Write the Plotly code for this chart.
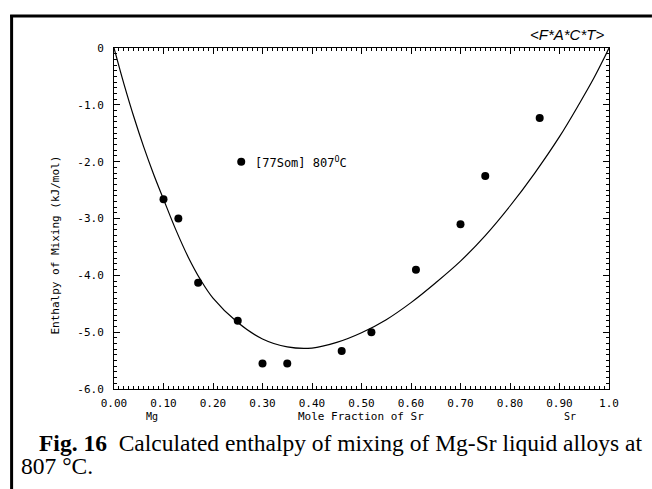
import plotly.graph_objects as go

# ---------------- data ----------------
exp_x = [0.10, 0.13, 0.17, 0.25, 0.30, 0.35, 0.46, 0.52, 0.61, 0.70, 0.75, 0.86]
exp_y = [-2.66, -3.00, -4.13, -4.80, -5.55, -5.55, -5.33, -5.00, -3.90, -3.10, -2.25, -1.23]

calc_x = [0.0, 0.01, 0.02, 0.04, 0.06, 0.08, 0.10, 0.125, 0.15, 0.175, 0.20, 0.25, 0.30,
          0.35, 0.40, 0.45, 0.50, 0.55, 0.60, 0.65, 0.70, 0.75, 0.80, 0.85, 0.90, 0.94,
          0.97, 0.99, 1.0]
calc_y = [0.0, -0.32, -0.63, -1.21, -1.74, -2.22, -2.66, -3.20, -3.68, -4.08, -4.40, -4.83,
          -5.12, -5.26, -5.28, -5.18, -5.01, -4.78, -4.48, -4.13, -3.75, -3.30, -2.78,
          -2.20, -1.56, -0.98, -0.52, -0.18, 0.0]

legend_x = [0.257]
legend_y = [-2.0]
legend_label = "[77Som] 807<sup>O</sup>C"

x_tickvals = [0.0, 0.1, 0.2, 0.3, 0.4, 0.5, 0.6, 0.7, 0.8, 0.9, 1.0]
x_ticktext = ["0.00", "0.10", "0.20", "0.30", "0.40", "0.50", "0.60", "0.70", "0.80", "0.90", "1.0"]
y_tickvals = [0, -1, -2, -3, -4, -5, -6]
y_ticktext = ["0", "-1.0", "-2.0", "-3.0", "-4.0", "-5.0", "-6.0"]

x_title = "Mole Fraction of Sr"
y_title = "Enthalpy of Mixing (kJ/mol)"
left_end = "Mg"
right_end = "Sr"
logo = "<i>&lt;F*A*C*T&gt;</i>"
caption1 = "<b>Fig. 16</b>\u00a0\u00a0Calculated enthalpy of mixing of Mg-Sr liquid alloys at"
caption2 = "807 \u00b0C."

# ---------------- layout geometry (pixels) ----------------
W, H = 652, 489
L, R, T, B = 113.5, 609, 48, 389


def px(x):
    return (x - L) / (R - L)


def py(y):
    return (B - y) / (B - T)


MONO = "DejaVu Sans Mono"
SERIF = "Liberation Serif, Times New Roman, serif"

fig = go.Figure()
fig.add_trace(go.Scatter(x=calc_x, y=calc_y, mode="lines",
                         line=dict(color="black", width=1.2, shape="spline", smoothing=1.0),
                         showlegend=False, hoverinfo="skip"))
fig.add_trace(go.Scatter(x=exp_x, y=exp_y, mode="markers",
                         marker=dict(color="black", size=8),
                         showlegend=False))
fig.add_trace(go.Scatter(x=legend_x, y=legend_y, mode="markers",
                         marker=dict(color="black", size=8),
                         showlegend=False, hoverinfo="skip"))

axis_common = dict(showline=True, linecolor="black", linewidth=1, mirror="ticks",
                   ticks="inside", tickcolor="black", tickwidth=1, ticklen=6,
                   showgrid=False, zeroline=False,
                   tickfont=dict(family=MONO, size=11, color="black"))

fig.update_xaxes(range=[0, 1], tickmode="array", tickvals=x_tickvals, ticktext=x_ticktext,
                 minor=dict(ticks="inside", dtick=0.01, ticklen=3, tickcolor="black", tickwidth=1),
                 ticklabelstandoff=4, **axis_common)
fig.update_yaxes(range=[-6, 0], tickmode="array", tickvals=y_tickvals, ticktext=y_ticktext,
                 minor=dict(ticks="inside", dtick=0.1, ticklen=3, tickcolor="black", tickwidth=1),
                 ticklabelstandoff=7, **axis_common)

ann = []
ann.append(dict(text=x_title, x=px(361), y=py(416), xref="paper", yref="paper",
                xanchor="center", yanchor="middle", showarrow=False,
                font=dict(family=MONO, size=11, color="black")))
ann.append(dict(text=left_end, x=px(152), y=py(416), xref="paper", yref="paper",
                xanchor="center", yanchor="middle", showarrow=False,
                font=dict(family=MONO, size=10, color="black")))
ann.append(dict(text=right_end, x=px(570), y=py(416), xref="paper", yref="paper",
                xanchor="center", yanchor="middle", showarrow=False,
                font=dict(family=MONO, size=10, color="black")))
ann.append(dict(text=y_title, x=px(55), y=py(245), xref="paper", yref="paper",
                xanchor="center", yanchor="middle", showarrow=False, textangle=-90,
                font=dict(family=MONO, size=11, color="black")))
ann.append(dict(text=legend_label, x=legend_x[0], y=legend_y[0], xref="x", yref="y",
                xshift=12, xanchor="left", yanchor="middle", showarrow=False,
                font=dict(family=MONO, size=12, color="black")))
ann.append(dict(text=logo, x=px(606), y=py(34), xref="paper", yref="paper",
                xanchor="right", yanchor="middle", showarrow=False,
                font=dict(family="Liberation Sans, Arial, sans-serif", size=15, color="black")))
ann.append(dict(text=caption1, x=px(36), y=py(443), xref="paper", yref="paper",
                xanchor="left", yanchor="middle", showarrow=False,
                font=dict(family=SERIF, size=23.5, color="black")))
ann.append(dict(text=caption2, x=px(18), y=py(466), xref="paper", yref="paper",
                xanchor="left", yanchor="middle", showarrow=False,
                font=dict(family=SERIF, size=23.5, color="black")))

shapes = [
    dict(type="line", xref="paper", yref="paper", x0=px(11), x1=px(11), y0=py(15), y1=py(489),
         line=dict(color="black", width=3)),
    dict(type="line", xref="paper", yref="paper", x0=px(9.5), x1=px(652), y0=py(16), y1=py(16),
         line=dict(color="black", width=3)),
]

fig.update_layout(width=W, height=H, autosize=False,
                  margin=dict(l=L, r=W - R, t=T, b=H - B, pad=0),
                  paper_bgcolor="white", plot_bgcolor="white",
                  annotations=ann, shapes=shapes, showlegend=False)

fig.write_html("out.html")
